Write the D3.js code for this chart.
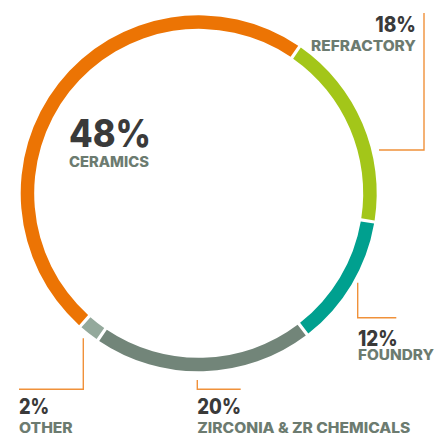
<!DOCTYPE html>
<html><head><meta charset="utf-8">
<script src="https://cdn.jsdelivr.net/npm/d3@7"></script>
<style>html,body{margin:0;padding:0;background:#fff;}svg{display:block;}</style>
</head><body>
<svg id="c" width="438" height="434"></svg>
<script>
const categories = ["REFRACTORY", "FOUNDRY", "ZIRCONIA & ZR CHEMICALS", "OTHER", "CERAMICS"];
const values = [18, 12, 20, 2, 48];
const percentLabels = ["18%", "12%", "20%", "2%", "48%"];
const colors = ["#A3C619", "#00A08F", "#728579", "#94A99C", "#EC7404"];

const svg = d3.select("#c");
const cx = 198.7, cy = 193.3, rOuter = 178, rInner = 164.5;
const start = 34.5 * Math.PI / 180;

const pie = d3.pie().sort(null).value(d => d).startAngle(start).endAngle(start + 2 * Math.PI);
const arc = d3.arc().innerRadius(rInner).outerRadius(rOuter).padAngle(0.013);

const g = svg.append("g").attr("transform", `translate(${cx},${cy})`);
g.selectAll("path").data(pie(values)).join("path")
  .attr("d", arc).attr("fill", (d, i) => colors[i]);

// leader lines
const leaderColor = "#F0913A";
const leaders = [
  [[379, 150], [424, 150], [424, 13]],
  [[357.7, 282.7], [357.7, 317.7], [396.3, 317.7]],
  [[197.3, 380], [197.3, 389.3], [240.7, 389.3]],
  [[83.3, 338.3], [83.3, 389.3], [19, 389.3]]
];
svg.selectAll("path.leader").data(leaders).join("path")
  .attr("class", "leader")
  .attr("d", d => d3.line()(d))
  .attr("fill", "none").attr("stroke", leaderColor).attr("stroke-width", 1.4);

const font = "Inter, 'Open Sans', sans-serif";
const pctColor = "#3A3A3A", labColor = "#6C7B70";
// label layout: [x, pctBaseline, labBaseline, anchor, pctSize, pctWidth, labWidth]
const layout = [
  [416, 32, 50.7, "end", 21, 40.7, 105],
  [358, 345.7, 360, "start", 21, 39.7, 76],
  [197.3, 413.5, 432.5, "start", 21, 43.7, 213],
  [19, 414.3, 432.5, "start", 21, 30.3, 53.7],
  [69, 147, 166.7, "start", 38, 82, 80]
];
categories.forEach((c, i) => {
  const [x, yp, yl, anchor, ps, pw, lw] = layout[i];
  svg.append("text").attr("x", x).attr("y", yp).attr("text-anchor", anchor)
    .attr("font-family", font).attr("font-weight", 800).attr("font-size", ps)
    .attr("fill", pctColor).attr("textLength", pw).attr("lengthAdjust", "spacingAndGlyphs")
    .text(percentLabels[i]);
  svg.append("text").attr("x", x).attr("y", yl).attr("text-anchor", anchor)
    .attr("font-family", font).attr("font-weight", 800).attr("font-size", 14)
    .attr("fill", labColor).attr("textLength", lw).attr("lengthAdjust", "spacingAndGlyphs")
    .text(c);
});
</script>
</body></html>
